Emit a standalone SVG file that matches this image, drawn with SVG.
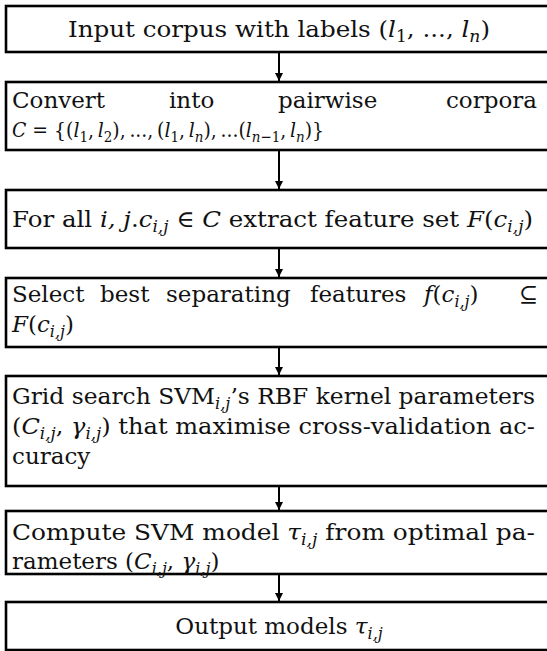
<svg xmlns="http://www.w3.org/2000/svg" width="547" height="651" viewBox="0 0 547 651">
<style>
.box{fill:#fff;stroke:#000;stroke-width:2.6}
.t{font-family:"DejaVu Serif","Liberation Serif",serif;font-size:23px;fill:#111}
.m{font-style:italic}
.s{font-size:16px}
.conn{stroke:#000;stroke-width:2;fill:none}
</style>
<defs>
<marker id="ah" viewBox="0 0 10 10" refX="10" refY="5" markerWidth="4.5" markerHeight="4" markerUnits="strokeWidth" orient="auto">
<path d="M0,0 L10,5 L0,10 Z" fill="#000"/>
</marker>
</defs>
<g id="connectors">
<line class="conn" x1="279" y1="52" x2="279" y2="81" marker-end="url(#ah)"/>
<line class="conn" x1="279" y1="150" x2="279" y2="189" marker-end="url(#ah)"/>
<line class="conn" x1="279" y1="248" x2="279" y2="277" marker-end="url(#ah)"/>
<line class="conn" x1="279" y1="347" x2="279" y2="375" marker-end="url(#ah)"/>
<line class="conn" x1="279" y1="486" x2="279" y2="510" marker-end="url(#ah)"/>
<line class="conn" x1="279" y1="574" x2="279" y2="601" marker-end="url(#ah)"/>
</g>
<g id="n1">
<rect class="box" x="6" y="6" width="550" height="46"/>
<text class="t" x="279" y="37" text-anchor="middle" textLength="422" lengthAdjust="spacingAndGlyphs">Input corpus with labels (<tspan class="m">l</tspan><tspan class="s" dy="5">1</tspan><tspan dy="-5">, ..., </tspan><tspan class="m">l</tspan><tspan class="s m" dy="5">n</tspan><tspan dy="-5">)</tspan></text>
</g>
<g id="n2">
<rect class="box" x="6" y="82" width="550" height="68"/>
<text class="t" y="108"><tspan x="12">Convert</tspan><tspan x="169">into</tspan><tspan x="278">pairwise</tspan><tspan x="537" text-anchor="end">corpora</tspan></text>
<text class="t" x="12" y="137" style="font-size:21px" textLength="312" lengthAdjust="spacingAndGlyphs"><tspan class="m">C</tspan> = {(<tspan class="m">l</tspan><tspan class="s" style="font-size:15px" dy="5">1</tspan><tspan dy="-5">,&#8201;</tspan><tspan class="m">l</tspan><tspan class="s" style="font-size:15px" dy="5">2</tspan><tspan dy="-5">),&#8201;...,&#8201;(</tspan><tspan class="m">l</tspan><tspan class="s" style="font-size:15px" dy="5">1</tspan><tspan dy="-5">,&#8201;</tspan><tspan class="m">l</tspan><tspan class="s m" style="font-size:15px" dy="5">n</tspan><tspan dy="-5">),&#8201;...(</tspan><tspan class="m">l</tspan><tspan class="s" style="font-size:15px" dy="5"><tspan class="m">n</tspan>−1</tspan><tspan dy="-5">,&#8201;</tspan><tspan class="m">l</tspan><tspan class="s m" style="font-size:15px" dy="5">n</tspan><tspan dy="-5">)}</tspan></text>
</g>
<g id="n3">
<rect class="box" x="6" y="190" width="550" height="58"/>
<text class="t" x="12" y="227" textLength="521" lengthAdjust="spacingAndGlyphs">For all <tspan class="m">i, j</tspan>.<tspan class="m">c</tspan><tspan class="s m" dy="5">i,j</tspan><tspan dy="-5"> ∈ </tspan><tspan class="m">C</tspan> extract feature set <tspan class="m">F</tspan>(<tspan class="m">c</tspan><tspan class="s m" dy="5">i,j</tspan><tspan dy="-5">)</tspan></text>
</g>
<g id="n4">
<rect class="box" x="6" y="278" width="550" height="69"/>
<text class="t" y="302"><tspan x="12">Select</tspan><tspan x="100">best</tspan><tspan x="166">separating</tspan><tspan x="310">features</tspan><tspan x="424" class="m">f</tspan><tspan>(</tspan><tspan class="m">c</tspan><tspan class="s m" dy="5">i,j</tspan><tspan dy="-5">)</tspan><tspan x="538" text-anchor="end">⊆</tspan></text>
<text class="t" x="12" y="332"><tspan class="m">F</tspan>(<tspan class="m">c</tspan><tspan class="s m" dy="5">i,j</tspan><tspan dy="-5">)</tspan></text>
</g>
<g id="n5">
<rect class="box" x="6" y="376" width="550" height="110"/>
<text class="t" x="12" y="404" textLength="523" lengthAdjust="spacingAndGlyphs">Grid search SVM<tspan class="s m" dy="5">i,j</tspan><tspan dy="-5">’s RBF kernel parameters</tspan></text>
<text class="t" x="12" y="434" textLength="523" lengthAdjust="spacingAndGlyphs">(<tspan class="m">C</tspan><tspan class="s m" dy="5">i,j</tspan><tspan dy="-5">, </tspan><tspan class="m">γ</tspan><tspan class="s m" dy="5">i,j</tspan><tspan dy="-5">) that maximise cross-validation ac-</tspan></text>
<text class="t" x="12" y="464">curacy</text>
</g>
<g id="n6">
<rect class="box" x="6" y="511" width="550" height="63"/>
<text class="t" x="12" y="540" textLength="523" lengthAdjust="spacingAndGlyphs">Compute SVM model <tspan class="m">τ</tspan><tspan class="s m" dy="5">i,j</tspan><tspan dy="-5"> from optimal pa-</tspan></text>
<text class="t" x="12" y="569">rameters (<tspan class="m">C</tspan><tspan class="s m" dy="5">i,j</tspan><tspan dy="-5">, </tspan><tspan class="m">γ</tspan><tspan class="s m" dy="5">i,j</tspan><tspan dy="-5">)</tspan></text>
</g>
<g id="n7">
<rect class="box" x="6" y="602" width="550" height="48"/>
<text class="t" x="279" y="634" text-anchor="middle">Output models <tspan class="m">τ</tspan><tspan class="s m" dy="5">i,j</tspan></text>
</g>
</svg>
